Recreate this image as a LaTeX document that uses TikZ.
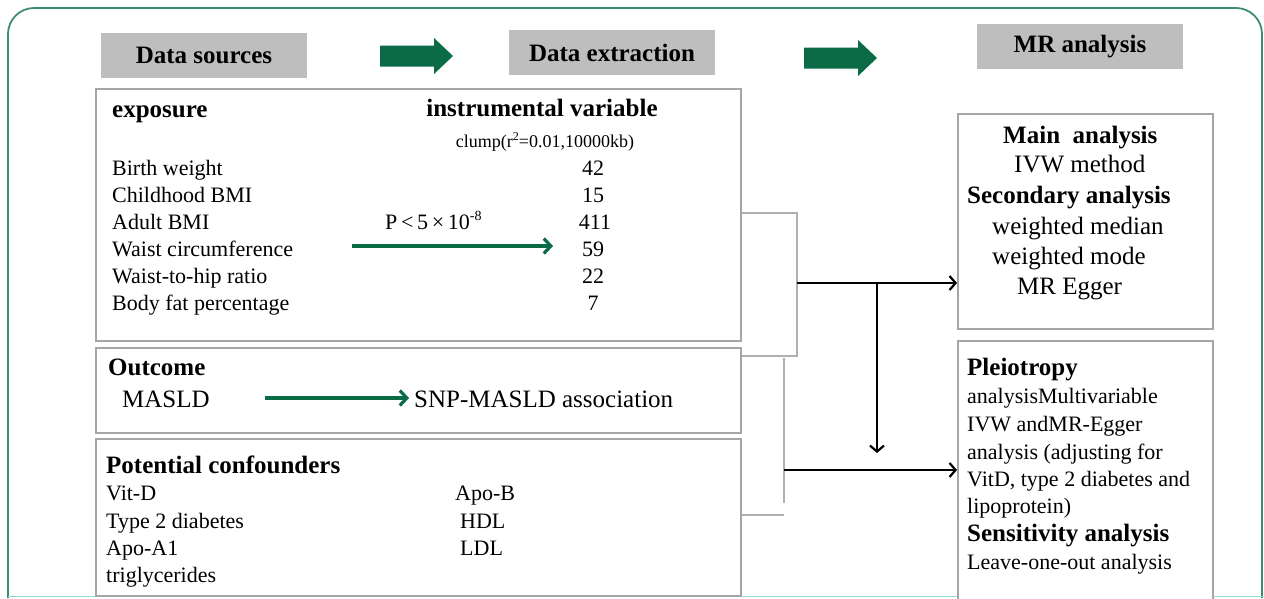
\documentclass[tikz,border=0pt]{standalone}
\usepackage{fontspec}
\setmainfont{Liberation Serif}
\usetikzlibrary{arrows.meta}
\definecolor{framegreen}{HTML}{3E8E6E}
\definecolor{arrowgreen}{HTML}{0A6B46}
\definecolor{hdrgray}{HTML}{BEBEBE}
\definecolor{boxgray}{HTML}{A6A6A6}
\definecolor{linkgray}{HTML}{B0B0B0}
\newcommand{\fsA}{\fontsize{22}{26}\selectfont}
\newcommand{\fsB}{\fontsize{25}{29}\selectfont}
\newcommand{\fsC}{\fontsize{18}{22}\selectfont}
\begin{document}
\begin{tikzpicture}[x=1pt,y=-1pt,
  hdr/.style={fill=hdrgray, draw=none, minimum width=206pt, minimum height=45pt,
    inner sep=0pt, font=\fsB\bfseries},
  panel/.style={draw=boxgray, line width=1.8pt, fill=white, anchor=north west, inner sep=0pt},
  txt/.style={anchor=base west, inner sep=0pt, font=\fsA},
  big/.style={anchor=base west, inner sep=0pt, font=\fsB},
  bold/.style={anchor=base west, inner sep=0pt, font=\fsB\bfseries},
  num/.style={anchor=base, inner sep=0pt, font=\fsA},
  blockarrow/.style={fill=arrowgreen, draw=none},
  greenarrow/.style={draw=arrowgreen, line width=3.4pt,
    -{Straight Barb[length=7pt, width=15pt, line width=3.2pt]}},
  link/.style={draw=linkgray, line width=1.8pt},
  flow/.style={draw=black, line width=2.4pt,
    -{Straight Barb[length=6pt, width=14pt, line width=2.2pt]}}
]
\useasboundingbox (0,0) rectangle (1264,598);

% outer frame
\draw[framegreen, line width=1.8pt, rounded corners=26pt]
  (8,598) -- (8,8) -- (1262,8) -- (1262,598);
\draw[framegreen!60!cyan!50, line width=1.5pt] (8,596.5) -- (1264,596.5);

% stage headers
\node[hdr] (hsrc) at (204,55.5) {Data sources};
\node[hdr] (hext) at (612,52.5) {Data extraction};
\node[hdr] (hmr)  at (1080,46.5) {MR analysis};

% block arrows between stages
\fill[blockarrow] (380,45.5) -- (434,45.5) -- (434,38) -- (453,56) -- (434,74)
  -- (434,66.5) -- (380,66.5) -- cycle;
\fill[blockarrow] (804,47.5) -- (858,47.5) -- (858,40) -- (877,58) -- (858,76)
  -- (858,68.5) -- (804,68.5) -- cycle;

% data source panels
\node[panel, minimum width=645pt, minimum height=252pt] (expo) at (95,88) {};
\node[panel, minimum width=645pt, minimum height=85pt]  (outc) at (95,347) {};
\node[panel, minimum width=645pt, minimum height=157pt] (conf) at (95,438) {};

% analysis panels
\node[panel, minimum width=255pt, minimum height=215pt] (mainbox) at (957,113) {};
\node[panel, minimum width=255pt, minimum height=262pt] (pleio)   at (957,340) {};

% exposure panel
\node[bold] (texp) at (112,117) {exposure};
\node[anchor=base, inner sep=0pt, font=\fsB\bfseries] (tiv) at (542,116) {instrumental variable};
\node[anchor=base, inner sep=0pt, font=\fsC] (tclump) at (545,147)
  {clump(r\raisebox{0.35em}{\fontsize{12}{12}\selectfont 2}=0.01,10000kb)};
\node[txt] (e1) at (112,175) {Birth weight};
\node[txt] (e2) at (112,202) {Childhood BMI};
\node[txt] (e3) at (112,229) {Adult BMI};
\node[txt] (e4) at (112,256) {Waist circumference};
\node[txt] (e5) at (112,283) {Waist-to-hip ratio};
\node[txt] (e6) at (112,310) {Body fat percentage};
\node[num] (n1) at (593,175) {42};
\node[num] (n2) at (593,202) {15};
\node[num] (n3) at (595,229) {411};
\node[num] (n4) at (593,256) {59};
\node[num] (n5) at (593,283) {22};
\node[num] (n6) at (593,310) {7};
\node[txt] (pthr) at (385,229)
  {P\,<\,5\,×\,10\raisebox{0.4em}{\fontsize{14}{14}\selectfont -8}};
\coordinate (ga1) at (352,246);
\coordinate (gb1) at (553,246);
\draw[greenarrow] (ga1) -- (gb1);

% outcome panel
\node[bold] (tout) at (108,375) {Outcome};
\node[big] (tmasld) at (122,407) {MASLD};
\node[big] (tsnp) at (414,407) {SNP-MASLD association};
\coordinate (ga2) at (265,398);
\coordinate (gb2) at (409,398);
\draw[greenarrow] (ga2) -- (gb2);

% confounders panel
\node[bold] (tconf) at (106,473) {Potential confounders};
\node[txt] (c1) at (106,500) {Vit-D};
\node[txt] (c2) at (106,528) {Type 2 diabetes};
\node[txt] (c3) at (106,555) {Apo-A1};
\node[txt] (c4) at (106,582) {triglycerides};
\node[txt] (c5) at (455,500) {Apo-B};
\node[txt] (c6) at (460,528) {HDL};
\node[txt] (c7) at (460,555) {LDL};

% main analysis panel
\node[bold] (m1) at (1003,143) {Main\ \ analysis};
\node[big]  (m2) at (1014,172) {IVW method};
\node[bold] (m3) at (967,203)  {Secondary analysis};
\node[big]  (m4) at (992,234)  {weighted median};
\node[big]  (m5) at (992,264)  {weighted mode};
\node[big]  (m6) at (1017,294) {MR Egger};

% pleiotropy / sensitivity panel
\node[bold] (p1) at (967,375) {Pleiotropy};
\node[txt]  (p2) at (967,403) {analysisMultivariable};
\node[txt]  (p3) at (967,431) {IVW andMR-Egger};
\node[txt]  (p4) at (967,459) {analysis (adjusting for};
\node[txt]  (p5) at (967,486) {VitD, type 2 diabetes and};
\node[txt]  (p6) at (967,513) {lipoprotein)};
\node[bold] (p7) at (967,541) {Sensitivity analysis};
\node[txt]  (p8) at (967,569) {Leave-one-out analysis};

% brackets joining the source panels
\coordinate (b1t) at (797,213);
\coordinate (b1b) at (797,356);
\coordinate (j1)  at (797,283);
\coordinate (j2)  at (877,283);
\coordinate (j3)  at (877,453);
\draw[link] (expo.east |- b1t) -- (b1t) -- (b1b) -- (outc.east |- b1b);
\coordinate (b2t) at (784,358);
\coordinate (b2b) at (784,503);
\coordinate (b2h) at (784,515);
\coordinate (j4)  at (784,470);
\draw[link] (b2t) -- (b2b);
\draw[link] (conf.east |- b2h) -- (b2h);

% flow into the analysis panels
\draw[flow] (j1) -- (mainbox.west |- j1);
\draw[flow] (j2) -- (j3);
\draw[flow] (j4) -- (pleio.west |- j4);
\end{tikzpicture}
\end{document}
